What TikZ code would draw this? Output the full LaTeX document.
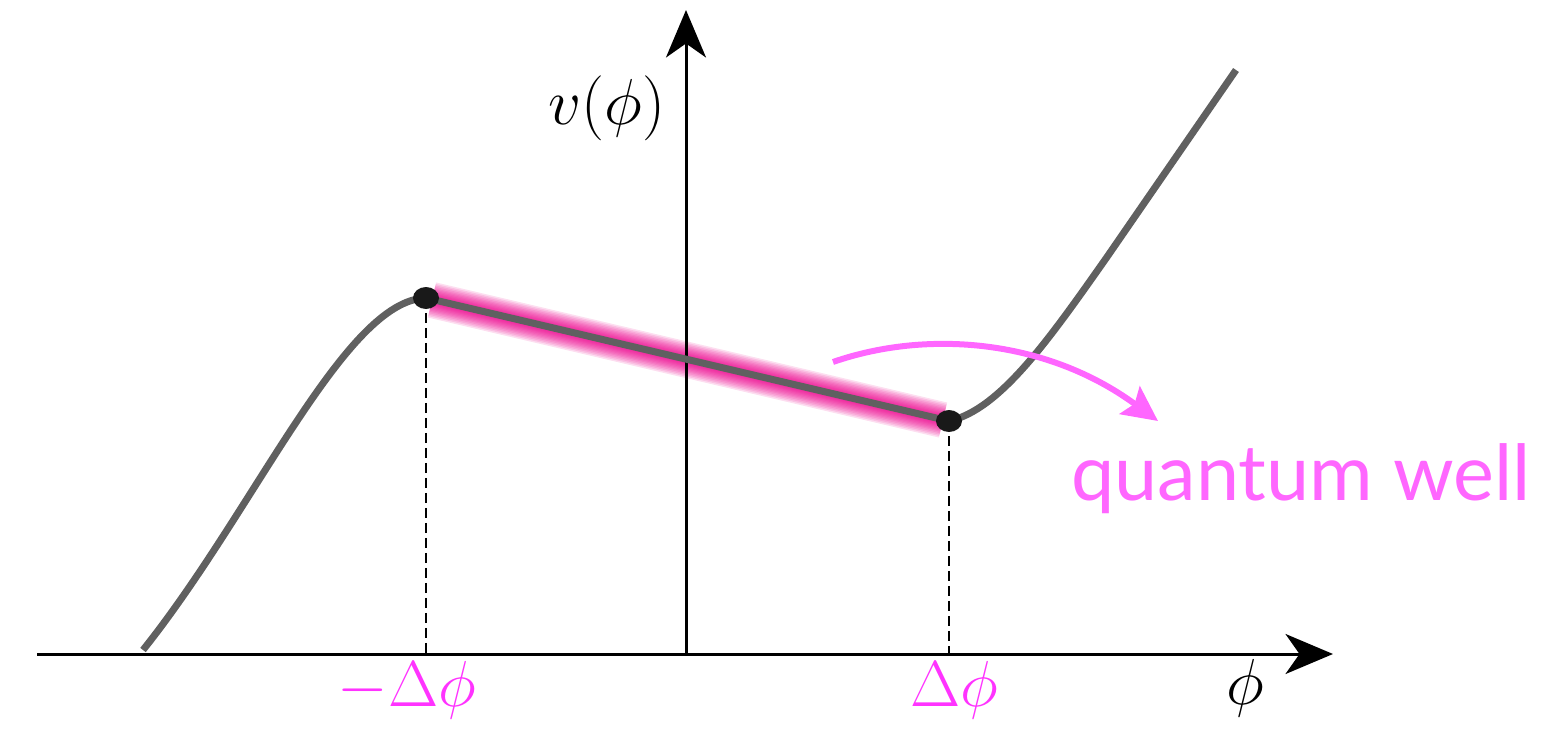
\documentclass[tikz,border=0pt]{standalone}
\usepackage{fontspec}
\newfontfamily\qwfont{Lato}
\usetikzlibrary{arrows.meta,shapes.geometric}
\definecolor{curvegray}{HTML}{606060}
\definecolor{qpink}{HTML}{FF66FF}
\definecolor{lblmag}{HTML}{FF33FF}
\tikzset{
  axisline/.style={line width=0.06cm, -{Stealth[length=0.95cm,width=0.8cm,inset=0.28cm]}},
  curveline/.style={line width=0.14cm, curvegray},
  dashline/.style={line width=0.05cm, dash pattern=on 0.2cm off 0.1cm},
  glow/.style={line width=#1, magenta, opacity=0.13},
  dotmark/.style={ellipse, fill=black!90, minimum width=0.52cm, minimum height=0.44cm, inner sep=0pt},
  mathlbl/.style={font=\Huge, scale=1.487, inner sep=0pt},
}
\begin{document}
\begin{tikzpicture}[x=0.02cm, y=-0.02cm]
\useasboundingbox (0,0) rectangle (1563,730);
% coordinates
\coordinate (xaxisstart) at (37,654);
\coordinate (xaxisend) at (1333,654);
\coordinate (yaxisstart) at (686,654);
\coordinate (yaxisend) at (686,10);
\coordinate (curveleft) at (143,650);
\coordinate (pmax) at (426,298);
\coordinate (pmin) at (949,421);
\coordinate (bend) at (1107,257);
\coordinate (curveright) at (1236,70);
\coordinate (pmaxfoot) at (426,654);
\coordinate (pminfoot) at (949,654);
\coordinate (arcstart) at (833,362);
\coordinate (arcend) at (1158,421);
\coordinate (glowa) at (432,300);
\coordinate (glowb) at (943,420);
% glow
\foreach \w in {0.72cm,0.66cm,0.60cm,0.54cm,0.48cm,0.43cm,0.38cm,0.33cm,0.28cm,0.24cm,0.20cm,0.16cm}{
  \draw[glow=\w] (glowa) -- (glowb);
}
% dashed
\draw[dashline] (pmax) -- (pmaxfoot);
\draw[dashline] (pmin) -- (pminfoot);
% axes
\draw[axisline] (xaxisstart) -- (xaxisend);
\draw[axisline] (yaxisstart) -- (yaxisend);
% curve
\draw[curveline] (curveleft) .. controls (255,510) and (345,300) .. (pmax);
\draw[curveline] (pmax) -- (pmin);
\draw[curveline] (pmin) .. controls (1000,410) and (1050,338) .. (bend) -- (curveright);
% dots
\node[dotmark] (dm) at (pmax) {};
\node[dotmark] (dp) at (pmin) {};
% pink arrow
\draw[qpink, line width=0.12cm, -{Stealth[length=0.7cm,width=0.68cm,inset=0.12cm]}]
  (arcstart) .. controls (925,330) and (1045,338) .. (arcend);
% labels
\node[mathlbl] (vl) at (607,108) {$v(\phi)$};
\node[mathlbl, text=lblmag] (lm) at (407,690) {$-\Delta\phi$};
\node[mathlbl, text=lblmag] (lp) at (954,690) {$\Delta\phi$};
\node[mathlbl] (lphi) at (1245,688) {$\phi$};
\node[text=qpink, font=\qwfont\fontsize{44}{50}\selectfont, inner sep=0pt, anchor=base] (qw) at (1301,500) {quantum well};
\end{tikzpicture}
\end{document}
